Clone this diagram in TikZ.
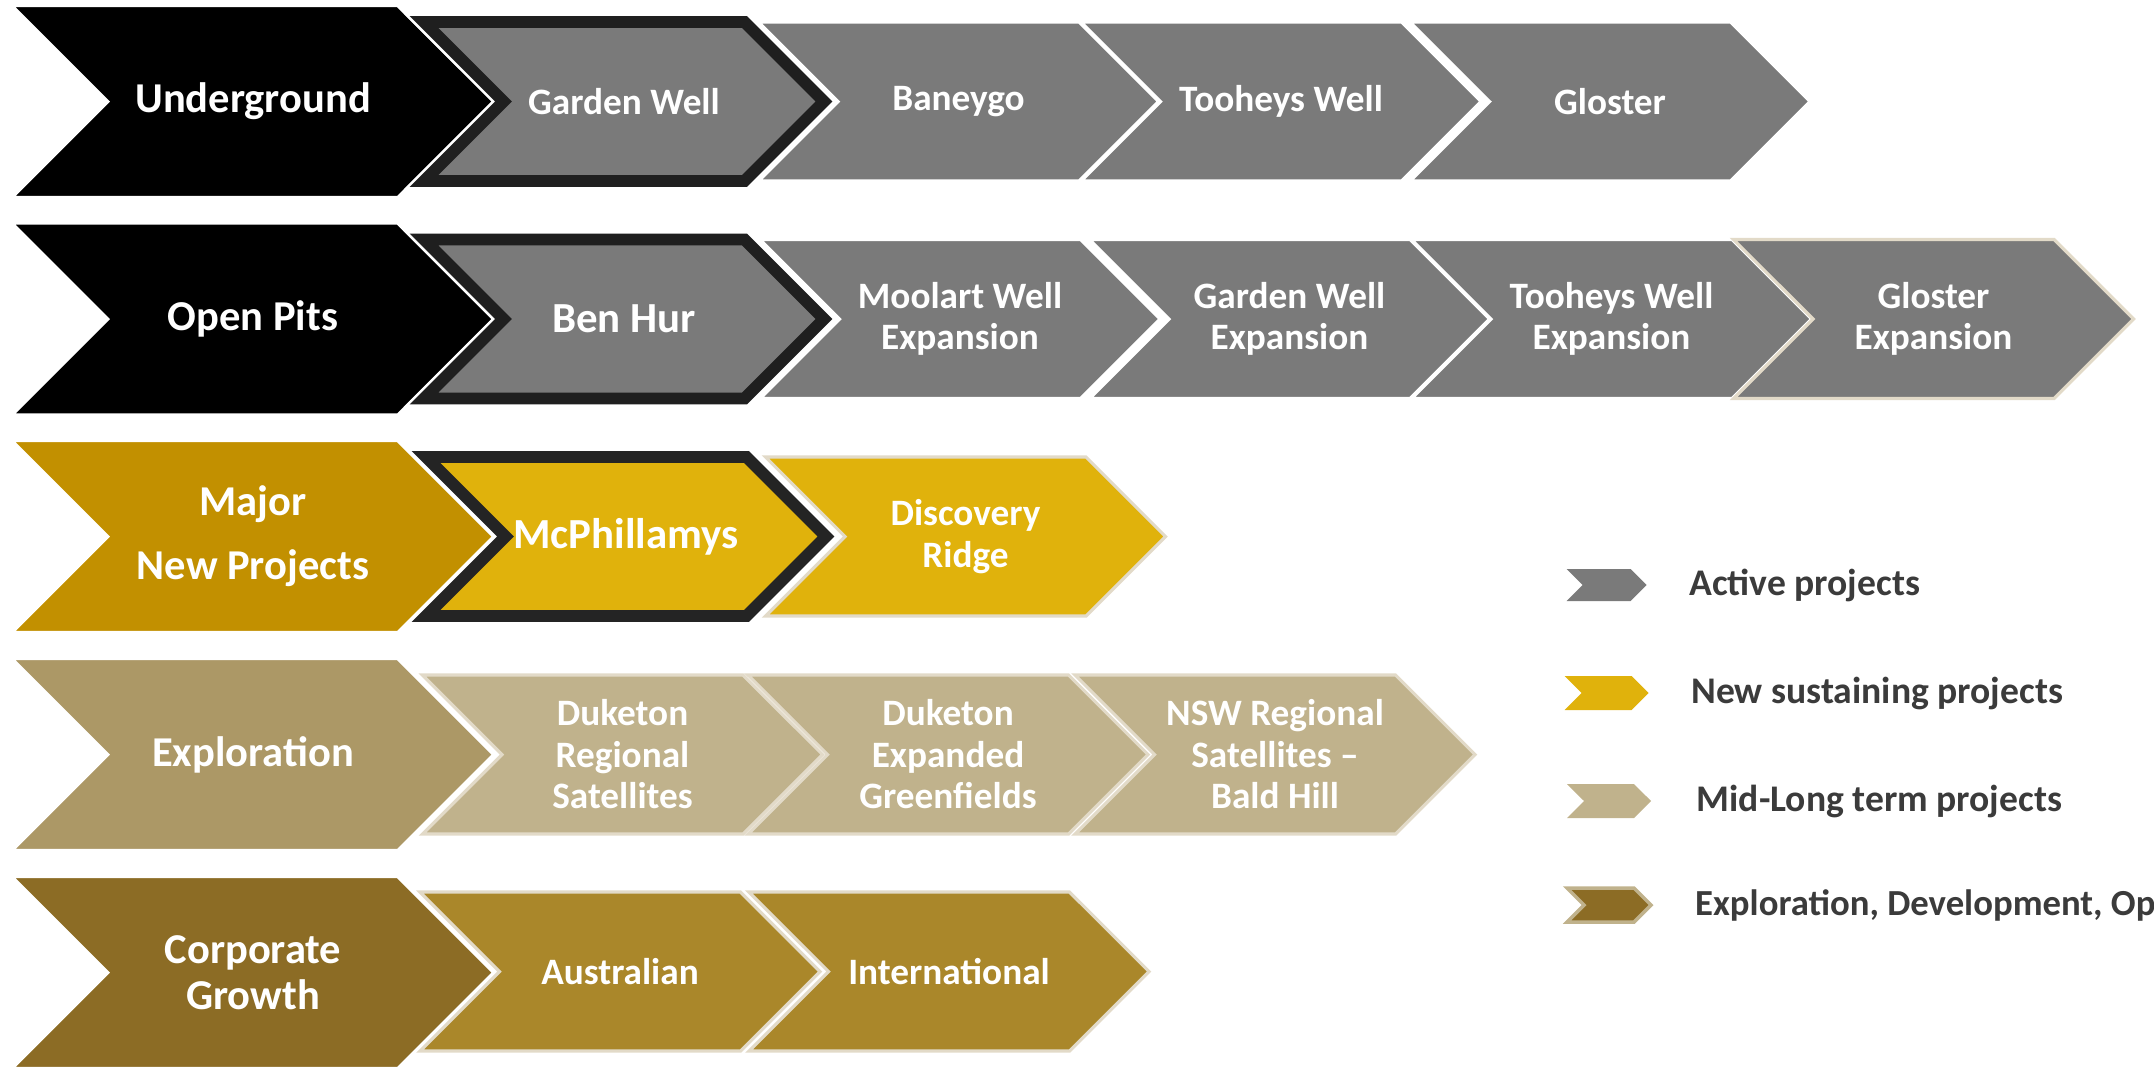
\documentclass[tikz,border=0pt]{standalone}
\usepackage{fontspec}
\setmainfont{Carlito}
\usetikzlibrary{shapes.symbols,positioning}

\definecolor{activegrey}{RGB}{122,122,122}
\definecolor{majorgold}{RGB}{194,144,0}
\definecolor{newgold}{RGB}{224,178,12}
\definecolor{explotan}{RGB}{172,152,102}
\definecolor{midtan}{RGB}{192,178,140}
\definecolor{corpbrown}{RGB}{140,108,37}
\definecolor{corpgold}{RGB}{170,135,42}
\definecolor{edgetan}{RGB}{226,218,200}
\definecolor{legendtext}{RGB}{59,59,59}

\tikzset{
  chevron/.style={signal, signal from=west, signal to=east,
    signal pointer angle=90, inner sep=0pt, align=center, text=white},
  headbox/.style={chevron, minimum width=4.8cm, minimum height=1.91cm,
    draw=white, line width=0.6pt,
    font=\fontsize{12.1}{13.2}\selectfont\bfseries},
  projbox/.style={chevron, minimum width=4cm, minimum height=1.59cm,
    draw=white, line width=0.9pt,
    font=\fontsize{10.6}{11.8}\selectfont\bfseries},
  goldbox/.style={projbox, draw=edgetan},
  current/.style={draw=black!88, line width=3.4pt,
    preaction={draw=white, line width=4.8pt},
    font=\fontsize{12.2}{13}\selectfont\bfseries},
  legarrow/.style={chevron, minimum width=0.84cm, minimum height=0.34cm},
  legtext/.style={inner sep=0pt, text=legendtext,
    font=\fontsize{10.7}{12}\selectfont\bfseries}
}

\begin{document}
\begin{tikzpicture}
  \useasboundingbox (0,0) rectangle (21.54,-10.67);

  % Define nodes: underground
  \node[headbox, fill=black] (ug) at (2.53,-1.015) {Underground};
  \node[projbox, fill=activegrey, current, font=\fontsize{10.6}{11.8}\selectfont\bfseries] (gw) at (6.24,-1.015) {Garden Well};
  \node[projbox, fill=activegrey] (bn) at (9.585,-1.015) {Baneygo};
  \node[projbox, fill=activegrey] (tw) at (12.81,-1.015) {Tooheys Well};
  \node[projbox, fill=activegrey] (gl) at (16.1,-1.015) {Gloster};

  % open pits
  \node[headbox, fill=black] (op) at (2.53,-3.19) {Open Pits};
  \node[projbox, fill=activegrey, current] (bh) at (6.24,-3.19) {Ben Hur};
  \node[projbox, fill=activegrey] (mwx) at (9.6,-3.19) {Moolart Well\\Expansion};
  \node[projbox, fill=activegrey] (gwx) at (12.895,-3.19) {Garden Well\\Expansion};
  \node[projbox, fill=activegrey] (twx) at (16.115,-3.19) {Tooheys Well\\Expansion};
  \node[projbox, fill=activegrey, draw=edgetan] (glx) at (19.335,-3.19) {Gloster\\Expansion};

  % major new projects
  \node[headbox, fill=majorgold] (mnp) at (2.53,-5.365) {Major\\[5pt]New Projects};
  \node[projbox, fill=newgold, current, draw=black!86] (mcp) at (6.26,-5.365) {McPhillamys};
  \node[goldbox, fill=newgold] (dr) at (9.655,-5.365) {Discovery\\Ridge};

  % exploration
  \node[headbox, fill=explotan] (ex) at (2.53,-7.545) {Exploration};
  \node[goldbox, fill=midtan] (drs) at (6.225,-7.545) {Duketon\\Regional\\Satellites};
  \node[goldbox, fill=midtan] (deg) at (9.48,-7.545) {Duketon\\Expanded\\Greenfields};
  \node[goldbox, fill=midtan] (nsw) at (12.75,-7.545) {NSW Regional\\Satellites \textendash\\Bald Hill};

  % corporate growth
  \node[headbox, fill=corpbrown] (cg) at (2.53,-9.725) {Corporate\\Growth};
  \node[goldbox, fill=corpgold] (au) at (6.2,-9.715) {Australian};
  \node[goldbox, fill=corpgold] (intl) at (9.49,-9.715) {International};

  % legend
  \node[legarrow, fill=activegrey, minimum width=0.8cm, minimum height=0.32cm] (la) at (16.065,-5.85) {};
  \node[legtext, right=0.41cm of la] (lat) {Active projects};
  \node[legarrow, fill=newgold] (ln) at (16.065,-6.93) {};
  \node[legtext, right=0.41cm of ln] (lnt) {New sustaining projects};
  \node[legarrow, fill=midtan] (lm) at (16.09,-8.01) {};
  \node[legtext, right=0.44cm of lm] (lmt) {Mid-Long term projects};
  \node[legarrow, fill=corpbrown, draw=midtan, line width=1pt] (le) at (16.09,-9.05) {};
  \node[legtext, right=0.41cm of le, font=\fontsize{10.45}{12}\selectfont\bfseries] (let) {Exploration, Development, Op};
\end{tikzpicture}
\end{document}
